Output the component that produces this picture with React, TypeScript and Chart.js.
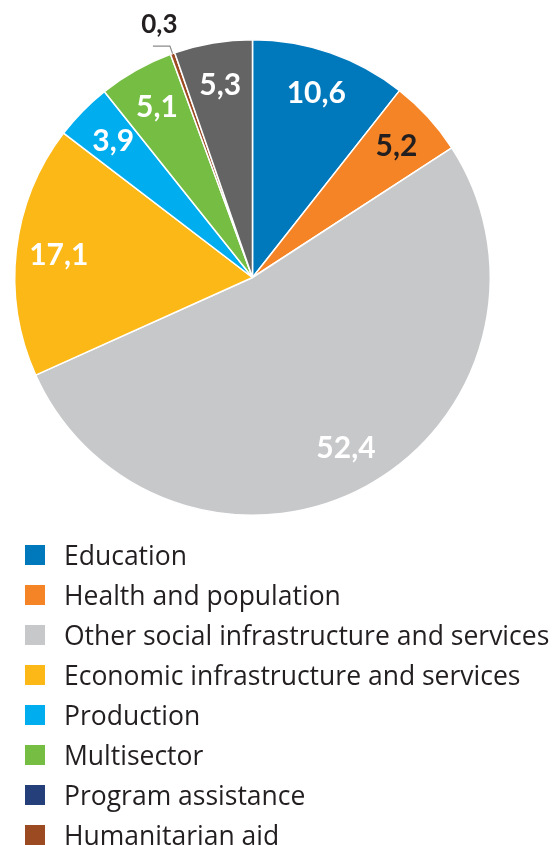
import React, { useEffect, useRef } from "react";
import { Chart, registerables } from "chart.js";

Chart.register(...registerables);

// ---- data ----
const categories = [
  "Education",
  "Health and population",
  "Other social infrastructure and services",
  "Economic infrastructure and services",
  "Production",
  "Multisector",
  "Program assistance",
  "Humanitarian aid",
  "Unallocated",
];
const shares = [10.6, 5.2, 52.4, 17.1, 3.9, 5.1, 0, 0.3, 5.3];
const shownInLegend = [true, true, true, true, true, true, true, true, false];

// ---- styles ----
const sliceColors = [
  "#0079BC",
  "#F58426",
  "#C7C8CA",
  "#FBB817",
  "#00AEEF",
  "#76BE43",
  "#243F7A",
  "#9C4A21",
  "#646464",
];
const labelColors = ["#FFFFFF", "#231F20", "#FFFFFF", "#FFFFFF", "#FFFFFF", "#FFFFFF", "#FFFFFF", "#231F20", "#FFFFFF"];

const fmt = (v: number) => v.toFixed(1).replace(".", ",");

const valueLabelPlugin = {
  id: "valueLabels",
  afterDatasetsDraw(chart: any) {
    const ctx = chart.ctx;
    const meta = chart.getDatasetMeta(0);
    const data = chart.data.datasets[0].data as number[];
    ctx.save();
    ctx.textAlign = "center";
    ctx.textBaseline = "middle";
    meta.data.forEach((arc: any, i: number) => {
      const v = data[i];
      if (!v) return;
      const p = arc.getProps(["x", "y", "startAngle", "endAngle", "outerRadius"], true);
      const mid = (p.startAngle + p.endAngle) / 2;
      if (v >= 1) {
        const r = p.outerRadius * 0.82;
        ctx.font = "bold 30px Lato";
        ctx.fillStyle = labelColors[i];
        ctx.fillText(fmt(v), p.x + Math.cos(mid) * r, p.y + Math.sin(mid) * r);
      } else {
        const x1 = p.x + Math.cos(mid) * p.outerRadius;
        const y1 = p.y + Math.sin(mid) * p.outerRadius;
        const x2 = p.x + Math.cos(mid) * (p.outerRadius + 8);
        const y2 = p.y + Math.sin(mid) * (p.outerRadius + 8);
        const x3 = x2 - 17;
        ctx.strokeStyle = "#8A8A8A";
        ctx.lineWidth = 1.2;
        ctx.beginPath();
        ctx.moveTo(x1, y1);
        ctx.lineTo(x2, y2);
        ctx.lineTo(x3, y2);
        ctx.stroke();
        ctx.font = "bold 26px Lato";
        ctx.fillStyle = labelColors[i];
        ctx.textBaseline = "alphabetic";
        ctx.fillText(fmt(v), (x2 + x3) / 2 - 2, y2 - 13);
        ctx.textBaseline = "middle";
      }
    });
    ctx.restore();
  },
};

const listLegendPlugin = {
  id: "listLegend",
  afterDraw(chart: any) {
    const ctx = chart.ctx;
    const top = chart.chartArea.bottom + 39;
    let k = 0;
    ctx.save();
    ctx.font = "26.5px 'Open Sans'";
    ctx.textBaseline = "alphabetic";
    ctx.textAlign = "left";
    categories.forEach((name, i) => {
      if (!shownInLegend[i]) return;
      const cy = top + k * 40;
      ctx.fillStyle = sliceColors[i];
      ctx.fillRect(25, cy - 10, 20, 20);
      ctx.fillStyle = "#231F20";
      ctx.fillText(name, 64, cy + 10);
      k++;
    });
    ctx.restore();
  },
};

export default function App() {
  const ref = useRef<HTMLCanvasElement>(null);
  useEffect(() => {
    document.body.style.margin = "0";
    if (!ref.current) return;
    const chart = new Chart(ref.current, {
      type: "pie",
      data: {
        labels: categories,
        datasets: [
          {
            data: shares,
            backgroundColor: sliceColors,
            borderColor: "#FFFFFF",
            borderWidth: 1.5,
          },
        ],
      },
      options: {
        animation: false,
        responsive: true,
        maintainAspectRatio: false,
        layout: { padding: { left: 14, top: 39, right: 69, bottom: 329 } },
        plugins: {
          legend: { display: false },
          tooltip: { enabled: false },
        },
      },
      plugins: [valueLabelPlugin, listLegendPlugin],
    });
    return () => chart.destroy();
  }, []);
  return (
    <div style={{ width: 560, height: 845, position: "relative" }}>
      <canvas ref={ref} />
    </div>
  );
}
